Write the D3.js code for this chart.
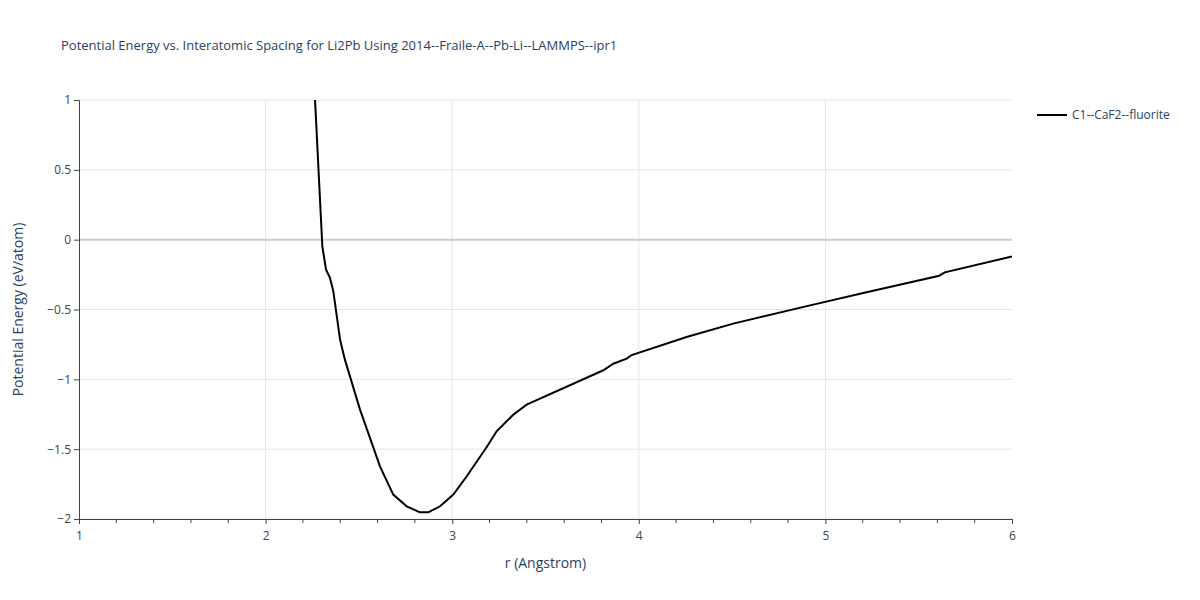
<!DOCTYPE html><html><head><meta charset="utf-8"><script src="https://cdn.jsdelivr.net/npm/d3@7"></script>
<style>body{margin:0;background:#fff}text{font-family:"Open Sans",Verdana,sans-serif}</style></head><body>
<svg id="c" width="1200" height="600"></svg>
<script>
const rValues=[2.265,2.304,2.324,2.345,2.363,2.399,2.425,2.506,2.613,2.684,2.756,2.827,2.872,2.935,3.006,3.078,3.185,3.238,3.327,3.399,3.81,3.863,3.935,3.962,4.256,4.506,4.935,5.203,5.61,5.64,6.0];
const energyValues=[1.0,-0.048,-0.215,-0.274,-0.37,-0.716,-0.859,-1.217,-1.623,-1.825,-1.909,-1.952,-1.952,-1.909,-1.825,-1.694,-1.485,-1.372,-1.253,-1.181,-0.935,-0.888,-0.852,-0.826,-0.697,-0.601,-0.465,-0.382,-0.258,-0.234,-0.12];
const xTicks=[1,2,3,4,5,6];
const yTicks=[-2,-1.5,-1,-0.5,0,0.5,1];
const seriesName="C1--CaF2--fluorite";
const svg=d3.select("#c");
const L=79,R=1012,T=100,B=519;
const x=d3.scaleLinear().domain([1,6]).range([L,R]);
const y=d3.scaleLinear().domain([-2,1]).range([B,T]);
const g=svg.append("g");
g.selectAll(".vg").data(xTicks.slice(1,-1)).join("line").attr("x1",d=>x(d)).attr("x2",d=>x(d)).attr("y1",T).attr("y2",B).attr("stroke","#e5e5e5");
g.selectAll(".hg").data(yTicks).join("line").attr("x1",L).attr("x2",R).attr("y1",d=>y(d)).attr("y2",d=>y(d)).attr("stroke",d=>d===0?"#ccc":"#e5e5e5").attr("stroke-width",d=>d===0?2:1);
const minor=d3.range(1.2,6,0.2).filter(v=>Math.abs(v-Math.round(v))>0.01);
g.selectAll(".mt").data(minor).join("line").attr("x1",d=>x(d)).attr("x2",d=>x(d)).attr("y1",B).attr("y2",B+4).attr("stroke","#444");
const xa=svg.append("g").attr("transform",`translate(0,${B})`).call(d3.axisBottom(x).tickValues(xTicks).tickSize(5).tickFormat(d3.format("d")));
const ya=svg.append("g").attr("transform",`translate(${L},0)`).call(d3.axisLeft(y).tickValues(yTicks).tickSize(5).tickFormat(d=>d<0?"−"+Math.abs(d):d));
[xa,ya].forEach(a=>{a.selectAll("path,line").attr("stroke","#444");a.selectAll("text").attr("fill","#444").style("font-size","12px");});
xa.selectAll("text").attr("dy","1.1em");
const clip=svg.append("clipPath").attr("id","cp").append("rect").attr("x",L).attr("y",T-1).attr("width",R-L).attr("height",B-T+2);
svg.append("path").datum(rValues.map((r,i)=>[r,energyValues[i]])).attr("clip-path","url(#cp)")
 .attr("d",d3.line().x(d=>x(d[0])).y(d=>y(d[1]))).attr("fill","none").attr("stroke","#000").attr("stroke-width",2);
svg.append("text").attr("x",61).attr("y",50).text("Potential Energy vs. Interatomic Spacing for Li2Pb Using 2014--Fraile-A--Pb-Li--LAMMPS--ipr1").style("font-size","13px").attr("fill","#2a3f5f");
svg.append("text").attr("x",(L+R)/2).attr("y",568).attr("text-anchor","middle").text("r (Angstrom)").style("font-size","14px").attr("fill","#2a3f5f");
svg.append("text").attr("transform",`translate(23,${(T+B)/2}) rotate(-90)`).attr("text-anchor","middle").text("Potential Energy (eV/atom)").style("font-size","14px").attr("fill","#2a3f5f");
svg.append("line").attr("x1",1037).attr("x2",1067).attr("y1",115).attr("y2",115).attr("stroke","#000").attr("stroke-width",2);
svg.append("text").attr("x",1072).attr("y",119).text(seriesName).style("font-size","12px").attr("fill","#2a3f5f");
</script></body></html>
